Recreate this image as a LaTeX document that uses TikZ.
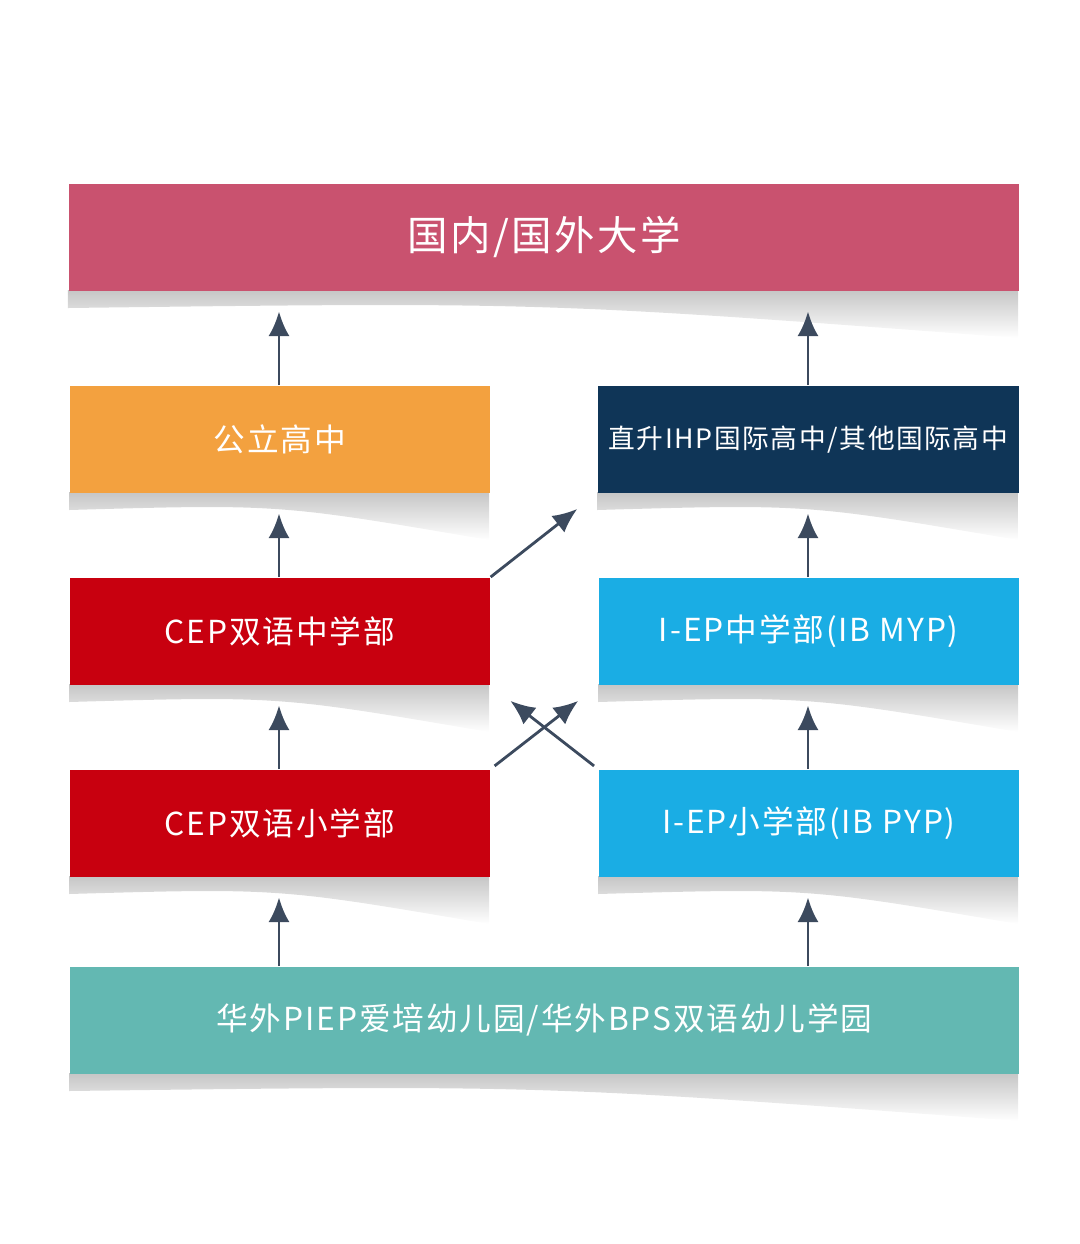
\documentclass[tikz,border=0pt]{standalone}
\usepackage{fontspec}
\setmainfont[LetterSpace=6]{Noto Sans CJK SC}
\usetikzlibrary{arrows.meta}
\definecolor{uni}{HTML}{C9526F}
\definecolor{pub}{HTML}{F3A13F}
\definecolor{ihp}{HTML}{0F3557}
\definecolor{cep}{HTML}{C8000F}
\definecolor{iep}{HTML}{1AADE4}
\definecolor{kg}{HTML}{63B8B2}
\definecolor{arr}{HTML}{3C4A5E}
\tikzset{
  box/.style={anchor=north west, inner sep=0pt, text=white, font=\fontsize{9}{10}\selectfont},
  up/.style={draw=arr, line width=0.8pt, -{Latex[length=7pt,width=6pt]}, shorten >=0.2cm}
}
\begin{document}
\begin{tikzpicture}[x=0.01cm,y=-0.01cm]
  \useasboundingbox (0,0) rectangle (1080,1244);

  % shadows
  \foreach \l/\r/\b in {68/1018/290, 69/489/492, 597/1018/492, 69/489/684, 598/1018/684, 69/489/876, 598/1018/876, 69/1018/1073}{
    \shade[top color=gray!45, bottom color=white]
      (\l,\b) -- (\r,\b) -- (\r,\b+48) .. controls ({(\l+\r)/2},\b+12) .. (\l,\b+18) -- cycle;
  }

  \node[box, fill=uni, minimum width=9.5cm, minimum height=1.07cm, font=\fontsize{11.5}{12}\selectfont] (uni) at (68,183) {国内/国外大学};
  \node[box, fill=pub, minimum width=4.2cm, minimum height=1.07cm] (pub) at (69,385) {公立高中};
  \node[box, fill=ihp, minimum width=4.21cm, minimum height=1.07cm, font=\fontsize{7.6}{9}\selectfont] (ihp) at (597,385) {直升IHP国际高中/其他国际高中};
  \node[box, fill=cep, minimum width=4.2cm, minimum height=1.07cm] (cepm) at (69,577) {CEP双语中学部};
  \node[box, fill=iep, minimum width=4.2cm, minimum height=1.07cm] (iepm) at (598,577) {I-EP中学部(IB MYP)};
  \node[box, fill=cep, minimum width=4.2cm, minimum height=1.07cm] (cepp) at (69,769) {CEP双语小学部};
  \node[box, fill=iep, minimum width=4.2cm, minimum height=1.07cm] (iepp) at (598,769) {I-EP小学部(IB PYP)};
  \node[box, fill=kg, minimum width=9.49cm, minimum height=1.07cm] (kg) at (69,966) {华外PIEP爱培幼儿园/华外BPS双语幼儿学园};

  % arrows
  \draw[up] (pub.north -| 279,0) -- (uni.south -| 279,0);
  \draw[up] (ihp.north -| 808,0) -- (uni.south -| 808,0);
  \draw[up] (cepm.north -| 279,0) -- (pub.south -| 279,0);
  \draw[up] (iepm.north -| 808,0) -- (ihp.south -| 808,0);
  \draw[up] (cepp.north -| 279,0) -- (cepm.south -| 279,0);
  \draw[up] (iepp.north -| 808,0) -- (iepm.south -| 808,0);
  \draw[up] (kg.north -| 279,0) -- (cepp.south -| 279,0);
  \draw[up] (kg.north -| 808,0) -- (iepp.south -| 808,0);
  \draw[up, shorten >=0.25cm] (cepm.north east) -- (ihp.south west);
  \draw[up, shorten >=0.25cm, shorten <=0.05cm] (cepp.north east) -- (iepm.south west);
  \draw[up, shorten >=0.25cm, shorten <=0.05cm] (iepp.north west) -- (cepm.south east);
\end{tikzpicture}
\end{document}
